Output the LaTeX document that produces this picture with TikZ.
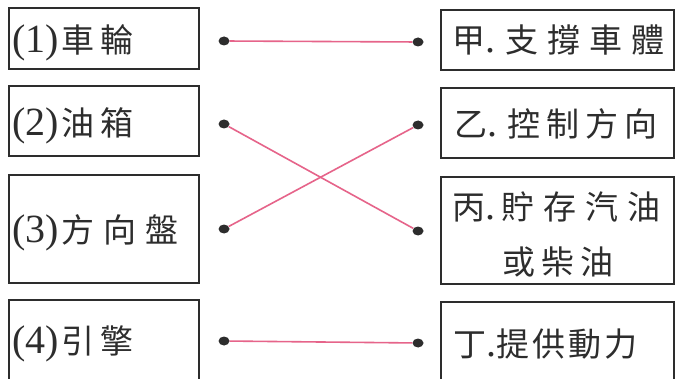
\documentclass[tikz,border=0pt]{standalone}
\usepackage{fontspec}
\setmainfont{Liberation Serif}
\newfontfamily\cjk{Noto Sans CJK TC}
\usetikzlibrary{shapes.geometric}
\definecolor{linkpink}{RGB}{230,100,138}
\definecolor{inkgrey}{RGB}{45,45,45}
\newcommand{\lat}[1]{{\fontsize{40}{40}\selectfont #1}}
\newcommand{\zh}[1]{{\cjk\fontsize{33}{33}\selectfont #1}}
\newcommand{\gp}{\hspace{6pt}}
\newcommand{\wgp}{\hspace{9pt}}
\tikzset{
  box/.style={draw=inkgrey, line width=1.4pt, minimum width=#1, inner sep=0pt},
  label/.style={anchor=base west, inner sep=0pt, text=inkgrey},
  dot/.style={ellipse, fill=inkgrey, draw=none, minimum width=11pt, minimum height=9pt, inner sep=0pt},
  link/.style={linkpink, line width=1.6pt}
}
\begin{document}
\begin{tikzpicture}[x=1pt,y=-1pt]
\fill[white] (0,0) rectangle (676,379);
\clip (0,0) rectangle (676,379);
% left boxes
\node[box=190pt, minimum height=61pt] (L1) at (104,38.5) {};
\node[box=190pt, minimum height=70pt] (L2) at (104,121) {};
\node[box=190pt, minimum height=108pt] (L3) at (104,229) {};
\node[box=190pt, minimum height=100pt] (L4) at (104,350) {};
% right boxes
\node[box=233pt, minimum height=60pt] (R1) at (557.5,40) {};
\node[box=233pt, minimum height=70pt] (R2) at (557.5,123) {};
\node[box=233pt, minimum height=107pt] (R3) at (557.5,230.5) {};
\node[box=233pt, minimum height=100pt] (R4) at (557.5,352) {};
% left labels
\node[label] (t1) at (12,53) {\lat{(1)}\hspace{3pt}\zh{車\gp 輪}};
\node[label] (t2) at (12,136) {\lat{(2)}\hspace{3pt}\zh{油\gp 箱}};
\node[label] (t3) at (12,242) {\lat{(3)}\hspace{3pt}\zh{方\wgp 向\wgp 盤}};
\node[label] (t4) at (12,353) {\lat{(4)}\hspace{3pt}\zh{引\gp 擎}};
% right labels
\node[label] (u1) at (452,53) {\zh{甲}\lat{.}\hspace{10pt}\zh{支\wgp 撐\wgp 車\wgp 體}};
\node[label] (u2) at (454,137) {\zh{乙}\lat{.}\hspace{10pt}\zh{控\gp 制\gp 方\gp 向}};
\node[label] (u3) at (452,219) {\zh{丙}\lat{.}\hspace{6pt}\zh{貯\wgp 存\wgp 汽\wgp 油}};
\node[label] (u3b) at (502,274) {\zh{或\gp 柴\gp 油}};
\node[label] (u4) at (453,356) {\zh{丁}\lat{.}\zh{提\hspace{3pt}供\hspace{3pt}動\hspace{3pt}力}};
% dots
\node[dot] (a1) at (224,41) {};
\node[dot] (a2) at (224,124) {};
\node[dot] (a3) at (224,229) {};
\node[dot] (a4) at (224,341) {};
\node[dot] (b1) at (418,42) {};
\node[dot] (b2) at (418,125) {};
\node[dot] (b3) at (418,231) {};
\node[dot] (b4) at (418,343) {};
% links
\draw[link] (a1) -- (b1);
\draw[link] (a2) -- (b3);
\draw[link] (a3) -- (b2);
\draw[link] (a4) -- (b4);
\end{tikzpicture}
\end{document}
